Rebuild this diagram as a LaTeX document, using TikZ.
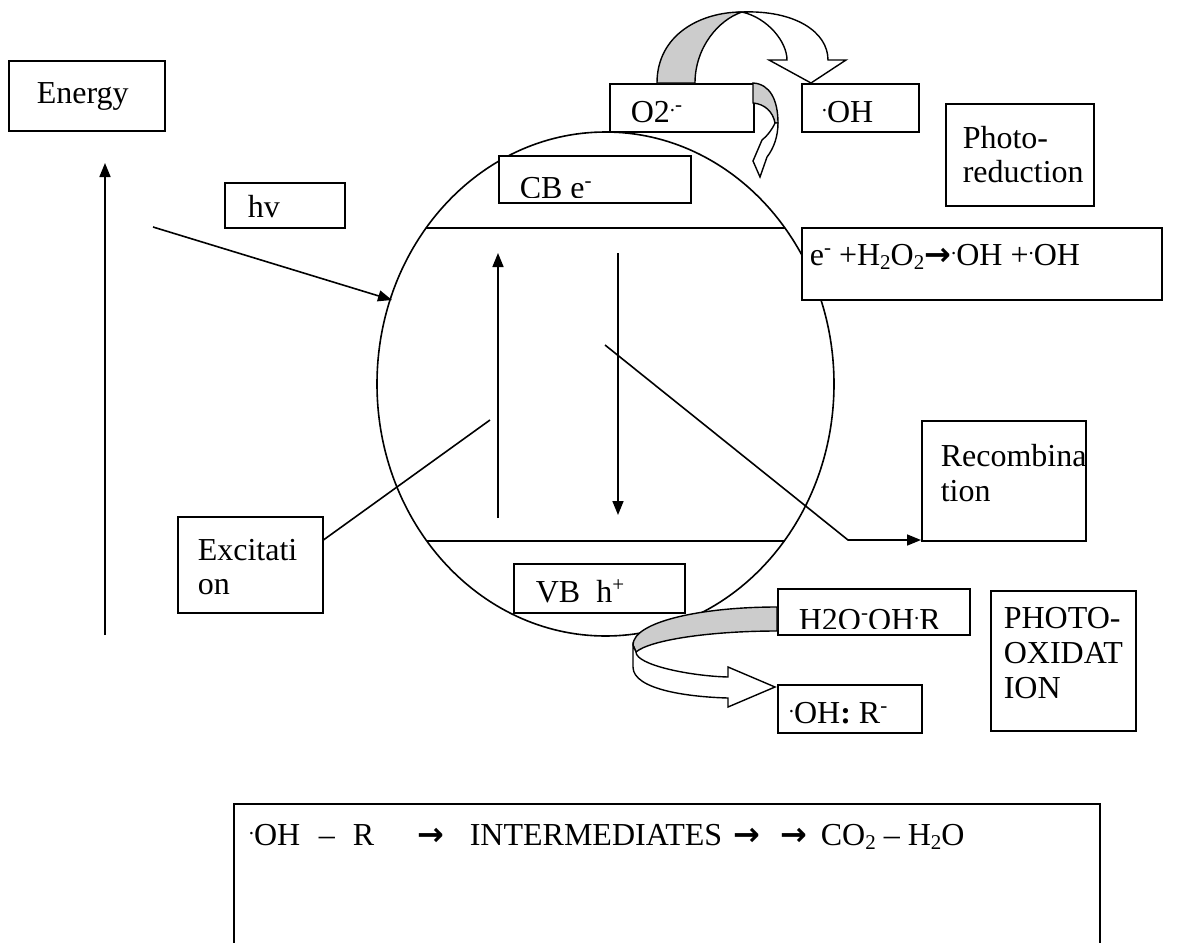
\documentclass[tikz,border=0pt]{standalone}
\usepackage{fontspec}
\setmainfont{Liberation Serif}
\newfontfamily\arrowfont{DejaVu Sans}
\usetikzlibrary{arrows.meta,shapes.geometric}
\newcommand\mysup[1]{\raisebox{0.33em}{\fontsize{21}{21}\selectfont #1}}
\newcommand\mysub[1]{\raisebox{-0.14em}{\fontsize{21}{21}\selectfont #1}}
\newcommand\rarr{{\arrowfont\bfseries →}}
\begin{document}
\begin{tikzpicture}[x=1pt,y=-1pt,line width=1.6pt,
  box/.style={draw,fill=white,rectangle,inner sep=0pt,anchor=north west,line width=1.6pt},
  txt/.style={anchor=base west,inner sep=0pt,font=\fontsize{32}{36}\selectfont},
  arr/.style={-{Triangle[length=14pt,width=11pt]}},
  ribbon/.style={draw,line width=1.4pt,line join=miter}]
\useasboundingbox (0,0) rectangle (1187,943);
\clip (0,0) rectangle (1187,943);
\fill[white] (0,0) rectangle (1187,943);

% particle
\node[draw,ellipse,minimum width=457pt,minimum height=504pt,inner sep=0pt] (circ) at (605.5,384) {};

% coordinates
\coordinate (eBot) at (105,635); \coordinate (eTop) at (105,163);
\coordinate (hvS) at (153,227);  \coordinate (hvE) at (392,300);
\coordinate (cbL) at (426,228);  \coordinate (cbR) at (785,228);
\coordinate (vbL) at (427,541);  \coordinate (vbR) at (785,541);
\coordinate (upS) at (498,518);  \coordinate (upE) at (498,253);
\coordinate (dnS) at (618,253);  \coordinate (dnE) at (618,515);
\coordinate (exS) at (322,541);  \coordinate (exE) at (490,420);
\coordinate (rcS) at (605,345);  \coordinate (rcB) at (848,540);
\coordinate (rcE) at (921,540);

\draw[arr] (eBot) -- (eTop);
\draw[arr] (hvS) -- (hvE);
\draw (cbL) -- (cbR);
\draw (vbL) -- (vbR);
\draw[arr] (upS) -- (upE);
\draw[arr] (dnS) -- (dnE);
\draw (exS) -- (exE);
\draw[arr] (rcS) -- (rcB) -- (rcE);

% boxes
\node[box,minimum width=156pt,minimum height=70pt] (energy) at (8,60) {};
\node[box,minimum width=120pt,minimum height=45pt] (hv) at (224,182) {};
\node[box,minimum width=144pt,minimum height=48pt] (o2) at (609,83) {};
\node[box,minimum width=117pt,minimum height=48pt] (oh) at (801,83) {};
\node[box,minimum width=192pt,minimum height=47pt] (cb) at (498,155) {};
\node[box,minimum width=148pt,minimum height=102pt] (pred) at (945,103) {};
\node[box,minimum width=360pt,minimum height=72pt] (eh) at (801,227) {};
\node[box,minimum width=164pt,minimum height=120pt] (recomb) at (921,420) {};
\node[box,minimum width=145pt,minimum height=96pt] (excit) at (177,516) {};
\node[box,minimum width=171pt,minimum height=49pt] (vb) at (513,563) {};
\node[box,minimum width=192pt,minimum height=46pt] (h2o) at (777,588) {};
\node[box,minimum width=144pt,minimum height=48pt] (ohr) at (777,684) {};
\node[box,minimum width=145pt,minimum height=140pt] (pox) at (990,590) {};
\node[box,minimum width=866pt,minimum height=200pt] (bot) at (233,803) {};

% ribbon arrow: O2 -> OH (top)
\draw[ribbon,fill=gray!40] (657,83) .. controls (657,35) and (700,12) .. (742,12)
   .. controls (718,20) and (695,48) .. (695,83) -- cycle;
\draw[ribbon,fill=white] (742,12) .. controls (795,10) and (828,32) .. (828,60)
   -- (846,60) -- (811,83) -- (769,60) -- (787,60)
   .. controls (787,42) and (768,18) .. (742,12) -- cycle;

% small ribbon arrow at right of O2
\draw[ribbon,fill=gray!40] (753,83) .. controls (770,84) and (778,100) .. (778,123)
   -- (775,123) .. controls (773,112) and (765,104) .. (753,103) -- cycle;
\draw[ribbon,fill=white] (775,123) .. controls (772,130) and (766,137) .. (762,140)
   -- (753,161) -- (760,177) -- (767,157)
   .. controls (774,148) and (778,136) .. (778,123) -- cycle;

% ribbon arrow: H2O... -> OH: R-
\draw[ribbon,fill=gray!40] (777,607) .. controls (700,607) and (633,622) .. (633,645)
   -- (636,652) .. controls (650,640) and (710,631) .. (777,631) -- cycle;
\draw[ribbon,fill=white] (633,645) -- (633,667) .. controls (633,690) and (690,697) .. (728,698)
   -- (728,707) -- (775,687) -- (728,667) -- (728,677)
   .. controls (690,676) and (636,665) .. (636,652) -- cycle;

% texts
\node[txt] (tEnergy) at (36,103) {Energy};
\node[txt] (tHv) at (247,217) {hv};
\begin{scope}
  \clip (609,83) rectangle (753,123);
  \node[txt] (tO2) at (630,122) {O2\mysup{.-}};
\end{scope}
\begin{scope}
  \clip (801,83) rectangle (918,123);
  \node[txt] (tOH) at (821,122) {\mysup{.}OH};
\end{scope}
\begin{scope}
  \clip (498,155) rectangle (690,197);
  \node[txt] (tCB) at (519,198) {CB e\mysup{-}};
\end{scope}
\node[txt] (tP1) at (962,148) {Photo-};
\node[txt] (tP2) at (962,182) {reduction};
\node[txt] (tEH) at (809,265) {e\mysup{-} +H\mysub{2}O\mysub{2}\rarr\mysup{.}OH +\mysup{.}OH};
\node[txt] (tR1) at (940,466) {Recombina};
\node[txt] (tR2) at (940,501) {tion};
\node[txt] (tX1) at (197,560) {Excitati};
\node[txt] (tX2) at (197,594) {on};
\node[txt] (tVB) at (535,602) {VB\ \ h\mysup{+}};
\begin{scope}
  \clip (777,588) rectangle (969,628);
  \node[txt] (tH2O) at (798,630) {H2O\mysup{-}OH\mysup{.}R};
\end{scope}
\begin{scope}
  \clip (777,684) rectangle (921,723);
  \node[txt] (tOHR) at (788,723) {\mysup{.}OH\textbf{:} R\mysup{-}};
\end{scope}
\node[txt] (tO1) at (1003,628) {PHOTO-};
\node[txt] (tO2b) at (1003,663) {OXIDAT};
\node[txt] (tO3) at (1003,698) {ION};

\node[txt] (b1) at (248,845) {\mysup{.}OH};
\node[txt] (b2) at (318,845) {–};
\node[txt] (b3) at (352,845) {R};
\node[txt] (b4) at (417,845) {\rarr};
\node[txt] (b5) at (469,845) {INTERMEDIATES};
\node[txt] (b6) at (733,845) {\rarr};
\node[txt] (b7) at (780,845) {\rarr};
\node[txt] (b8) at (820,845) {CO\mysub{2}};
\node[txt] (b9) at (883,845) {–};
\node[txt] (b10) at (907,845) {H\mysub{2}O};
\end{tikzpicture}
\end{document}
